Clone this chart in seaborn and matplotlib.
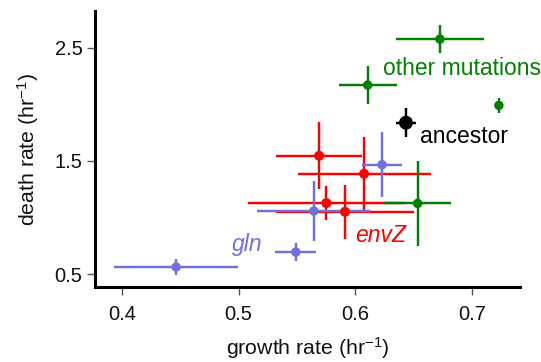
import matplotlib
matplotlib.use("Agg")
import matplotlib.pyplot as plt
import seaborn as sns
import pandas as pd

# data
groups = ["gln"] * 4 + ["envZ"] * 4 + ["other"] * 4 + ["ancestor"]
growth = [0.6229, 0.5644, 0.549, 0.4465,
          0.569, 0.6075, 0.5752, 0.5912,
          0.6725, 0.6106, 0.723, 0.6534,
          0.6434]
growth_err = [0.0171, 0.0482, 0.0174, 0.0528,
              0.0367, 0.057, 0.067, 0.0588,
              0.0378, 0.025, 0.003, 0.0285,
              0.0087]
death = [1.466, 1.057, 0.694, 0.562,
         1.545, 1.386, 1.127, 1.050,
         2.576, 2.170, 1.990, 1.124,
         1.837]
death_err = [0.287, 0.261, 0.077, 0.072,
             0.296, 0.327, 0.150, 0.238,
             0.121, 0.166, 0.063, 0.378,
             0.128]
x_ticks = [0.4, 0.5, 0.6, 0.7]
y_ticks = [0.5, 1.5, 2.5]

colors = {"gln": "#7070DD", "envZ": "#FF0000", "other": "#008000", "ancestor": "#000000"}
sizes = {"gln": 6.8, "envZ": 7.2, "other": 6.8, "ancestor": 10}

df = pd.DataFrame({"group": groups, "growth": growth, "gerr": growth_err,
                   "death": death, "derr": death_err})

sns.set_theme(style="ticks")
plt.rcParams["font.family"] = ["Liberation Sans", "DejaVu Sans"]
plt.rcParams["mathtext.default"] = "regular"

fig = plt.figure(figsize=(5.41, 3.62), dpi=100)
ax = fig.add_axes([0.1756, 0.207, 0.961 - 0.1756, 0.9696 - 0.207])

for g in ["envZ", "gln", "other", "ancestor"]:
    sub = df[df.group == g]
    ax.errorbar(sub.growth, sub.death, xerr=sub.gerr, yerr=sub.derr, fmt="none",
                ecolor=colors[g], elinewidth=1.75, capsize=0, zorder=2)
    sns.scatterplot(data=sub, x="growth", y="death", color=colors[g], s=sizes[g] ** 2,
                    edgecolor="none", linewidth=0, ax=ax, zorder=3, legend=False)

ax.set_xlim(0.377, 0.741)
ax.set_ylim(0.385, 2.824)
ax.set_xticks(x_ticks)
ax.set_xticklabels([f"{v:.1f}" for v in x_ticks])
ax.set_yticks(y_ticks)
ax.set_yticklabels([f"{v:.1f}" for v in y_ticks])

for s in ["top", "right"]:
    ax.spines[s].set_visible(False)
for s in ["left", "bottom"]:
    ax.spines[s].set_linewidth(2.2)
    ax.spines[s].set_color("black")
ax.tick_params(axis="both", direction="out", length=6, width=1, color="#555555",
               labelsize=14.5, labelcolor="#111111")
ax.tick_params(axis="x", pad=7)
ax.tick_params(axis="y", pad=3)

ax.set_xlabel("growth rate (hr$^{-1}$)", fontsize=15.3, color="#111111", labelpad=8)
ax.set_ylabel("death rate (hr$^{-1}$)", fontsize=15.3, color="#111111", labelpad=10)

fs = 16.5
ax.text(0.6237, 2.32, "other mutations", color=colors["other"], fontsize=fs,
        ha="left", va="center")
ax.text(0.6554, 1.713, "ancestor", color="black", fontsize=fs, ha="left", va="center")
ax.text(0.5997, 0.845, "envZ", color=colors["envZ"], fontsize=fs, style="italic",
        ha="left", va="center")
ax.text(0.4942, 0.765, "gln", color=colors["gln"], fontsize=fs, style="italic",
        ha="left", va="center")

fig.savefig("out.png", dpi=100)
